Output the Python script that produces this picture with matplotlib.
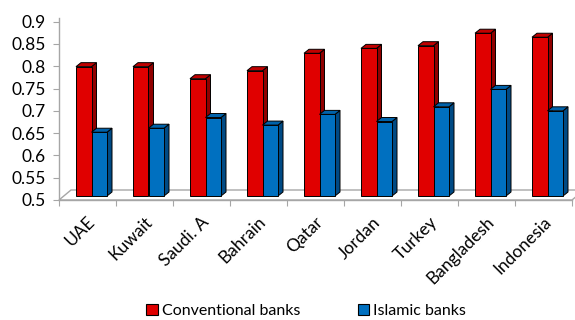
import matplotlib
matplotlib.use("Agg")
import matplotlib.pyplot as plt
import matplotlib.transforms as mtransforms
from matplotlib.patches import Polygon, Patch

countries = ["UAE", "Kuwait", "Saudi. A", "Bahrain", "Qatar", "Jordan",
             "Turkey", "Bangladesh", "Indonesia"]
conventional = [0.790, 0.790, 0.763, 0.781, 0.820, 0.831, 0.837, 0.865, 0.856]
islamic = [0.643, 0.652, 0.676, 0.659, 0.683, 0.667, 0.700, 0.739, 0.691]
y_ticks = [0.5, 0.55, 0.6, 0.65, 0.7, 0.75, 0.8, 0.85, 0.9]
series_names = ["Conventional banks", "Islamic banks"]

# front / side / top shades
RED = ("#e00000", "#900000", "#c00000")
BLUE = ("#0070c0", "#004a84", "#0062aa")
AXIS_GREY = "#a6a6a6"

plt.rcParams["font.family"] = ["Lato", "DejaVu Sans"]

W, H = 575, 320
fig = plt.figure(figsize=(W / 100, H / 100), dpi=100)
ax_left, ax_right, ax_bottom, ax_top = 59, 572, 200, 18
ax = fig.add_axes([ax_left / W, 1 - ax_bottom / H,
                   (ax_right - ax_left) / W, (ax_bottom - ax_top) / H])
ymin, ymax = 0.5, 0.9 + (21.6 - ax_top) / 446
n = len(countries)
ax.set_xlim(0, n)
ax.set_ylim(ymin, ymax)

# pixel -> data helpers
px_x = (ax_right - ax_left) / n
px_y = (ax_bottom - ax_top) / (ymax - ymin)


def dx(p):
    return p / px_x


def dy(p):
    return p / px_y


# floor (slab behind the x axis)
floor = Polygon([(0, ymin), (n, ymin), (n + dx(12), ymin + dy(10)),
                 (dx(12), ymin + dy(10))], closed=True, facecolor="white",
                edgecolor=AXIS_GREY, lw=1.0, clip_on=False, zorder=1)
ax.add_patch(floor)

bar_w = 0.272
shift_x, shift_y = dx(4), dy(4)
depth_x, depth_y = dx(5), dy(4)
base = ymin + shift_y


def bar3d(x0, value, colors, z):
    front, side, top = colors
    ttop = value + shift_y
    ax.add_patch(Polygon([(x0 + bar_w, base), (x0 + bar_w + depth_x, base + depth_y),
                          (x0 + bar_w + depth_x, ttop + depth_y), (x0 + bar_w, ttop)],
                         closed=True, facecolor=side, edgecolor="black", lw=0.7, zorder=z))
    ax.add_patch(Polygon([(x0, ttop), (x0 + depth_x, ttop + depth_y),
                          (x0 + bar_w + depth_x, ttop + depth_y), (x0 + bar_w, ttop)],
                         closed=True, facecolor=top, edgecolor="black", lw=0.7, zorder=z))
    ax.bar(x0, ttop - base, bar_w, bottom=base, align="edge", color=front,
           edgecolor="black", lw=0.7, zorder=z + 1)


for i in range(n):
    center = i + 0.5 + shift_x
    bar3d(center - bar_w, conventional[i], RED, 3)
    bar3d(center, islamic[i], BLUE, 5)

for side in ("top", "right"):
    ax.spines[side].set_visible(False)
for side in ("left", "bottom"):
    ax.spines[side].set_color(AXIS_GREY)
    ax.spines[side].set_linewidth(1.0)

ax.set_yticks(y_ticks)
ax.set_yticklabels([f"{t:g}" for t in y_ticks])
ax.tick_params(axis="y", direction="out", length=4.5, color=AXIS_GREY,
               labelsize=12.5, pad=5)

ax.set_xticks(range(n + 1))
ax.set_xticklabels([])
ax.set_xticks([i + 0.5 for i in range(n)], minor=True)
ax.set_xticklabels(countries, minor=True, rotation=45, ha="right", va="center",
                   rotation_mode="anchor", fontsize=12.5)
ax.tick_params(axis="x", which="major", direction="out", length=4, color=AXIS_GREY)
ax.tick_params(axis="x", which="minor", length=0, pad=14)
nudge = mtransforms.ScaledTranslation(5 / 100, 0, fig.dpi_scale_trans)
for lbl in ax.get_xticklabels(minor=True):
    lbl.set_transform(lbl.get_transform() + nudge)

handles = [Patch(facecolor=RED[0], edgecolor="black", lw=0.8),
           Patch(facecolor=BLUE[0], edgecolor="black", lw=0.8)]
fig.legend(handles, series_names, loc="center", bbox_to_anchor=(306 / W, 1 - 311 / H),
           ncol=2, frameon=False, fontsize=11.5, handlelength=0.7, handleheight=0.7,
           handletextpad=0.25, columnspacing=3.6, borderpad=0, borderaxespad=0)

fig.savefig("out.png", dpi=100)
